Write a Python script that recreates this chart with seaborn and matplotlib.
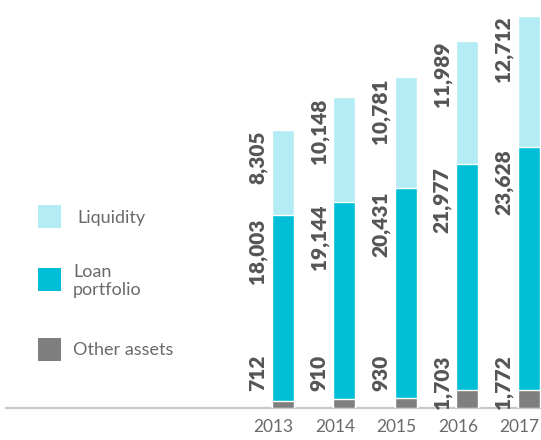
import matplotlib
matplotlib.use("Agg")
import matplotlib.pyplot as plt
import matplotlib.transforms as mtransforms
from matplotlib.patches import Rectangle
import numpy as np
import pandas as pd
import seaborn as sns

# Balance structure by year
years = ["2013", "2014", "2015", "2016", "2017"]
other_assets = [712, 910, 930, 1703, 1772]
loan_portfolio = [18003, 19144, 20431, 21977, 23628]
liquidity = [8305, 10148, 10781, 11989, 12712]

legend_labels = ["Liquidity", "Loan\nportfolio", "Other assets"]

c_liq = "#b3ecf4"
c_loan = "#00bed6"
c_other = "#7f7f7f"
c_text = "#555555"
c_axis = "#c8c8c8"
c_soft = "#6a6a6a"

sns.set_theme(style="white")
plt.rcParams["font.family"] = ["Lato", "DejaVu Sans"]

df = pd.DataFrame({
    "year": years,
    "other": other_assets,
    "loan": loan_portfolio,
    "liq": liquidity,
})
df["loan_top"] = df["other"] + df["loan"]
df["total"] = df["loan_top"] + df["liq"]

fig = plt.figure(figsize=(5.41, 4.40), dpi=100)
W, H = 541, 440
ax = fig.add_axes([6 / W, (H - 408) / H, (W - 6) / W, 408 / H])

bw = 0.358
# stacked bars drawn as overlapping cumulative heights
sns.barplot(data=df, x="year", y="total", color=c_liq, width=bw,
            saturation=1, ax=ax, zorder=2)
sns.barplot(data=df, x="year", y="loan_top", color=c_loan, width=bw,
            saturation=1, ax=ax, zorder=3)
sns.barplot(data=df, x="year", y="other", color=c_other, width=bw,
            saturation=1, ax=ax, zorder=4)

ax.set_xlim(-4.5, 4.2)
ax.set_ylim(0, 39650)
ax.set_xlabel("")
ax.set_ylabel("")
ax.set_yticks([])
for s in ["top", "left", "right"]:
    ax.spines[s].set_visible(False)
ax.spines["bottom"].set_color(c_axis)
ax.spines["bottom"].set_linewidth(1.6)
ax.spines["bottom"].set_zorder(1)
ax.tick_params(axis="x", length=0, pad=8, labelsize=12.5, labelcolor=c_soft)

# year labels sit slightly left of the bar centres
shift = mtransforms.ScaledTranslation(-9 / 100, 0, fig.dpi_scale_trans)
for t in ax.get_xticklabels():
    t.set_transform(t.get_transform() + shift)

lab_kw = dict(rotation=90, ha="center", va="top", fontsize=15,
              fontweight="heavy", color=c_text, textcoords="offset pixels")
for i, row in df.iterrows():
    ax.annotate(f"{row['liq']:,}", xy=(i, row["total"]), xytext=(-25, -1), **lab_kw)
    ax.annotate(f"{row['loan']:,}", xy=(i, row["loan_top"]), xytext=(-25, -3), **lab_kw)
    ax.annotate(f"{row['other']:,}", xy=(i, 0), xytext=(-25, 53), **lab_kw)

# legend
leg_colors = [c_liq, c_loan, c_other]
sq_tops = [205, 268, 338]
text_y = [218, 281, 350]
text_x = [77, 73, 73]
for col, top, ty, tx, lab in zip(leg_colors, sq_tops, text_y, text_x, legend_labels):
    fig.patches.append(Rectangle((38 / W, 1 - (top + 23) / H), 23 / W, 23 / H,
                                 transform=fig.transFigure, color=col, lw=0))
    fig.text(tx / W, 1 - ty / H, lab, ha="left", va="center", fontsize=13,
             color=c_soft, linespacing=1.2)

fig.savefig("out.png", dpi=100)
